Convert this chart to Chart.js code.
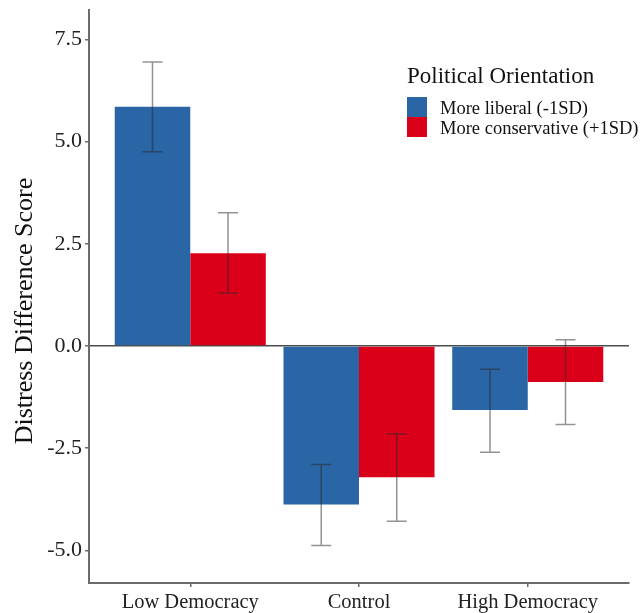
<!DOCTYPE html>
<html>
<head>
<meta charset="utf-8">
<title>Distress Difference Score</title>
<style>
  html, body { margin: 0; padding: 0; background: #fff; }
  #chart { display: block; }
</style>
<script src="https://cdn.jsdelivr.net/npm/chart.js@4.4.1/dist/chart.umd.min.js"></script>
</head>
<body>
<canvas id="chart" width="644" height="613"></canvas>
<script>
var categories = ['Low Democracy', 'Control', 'High Democracy'];
var seriesLabels = ['More liberal (-1SD)', 'More conservative (+1SD)'];
var liberalMeans = [5.85, -3.88, -1.57];
var liberalLower = [4.75, -4.88, -2.60];
var liberalUpper = [6.95, -2.90, -0.57];
var conservativeMeans = [2.27, -3.21, -0.88];
var conservativeLower = [1.29, -4.29, -1.92];
var conservativeUpper = [3.26, -2.15, 0.15];
var yTicks = [-5, -2.5, 0, 2.5, 5, 7.5];
var yTitle = 'Distress Difference Score';
var legendTitle = 'Political Orientation';

(function () {
  var serif = '"Liberation Serif", "Times New Roman", serif';
  var axisColor = '#6b6b6b';
  var textColor = '#222';

  function points(values) {
    return values.map(function (v, i) { return { x: i + 1, y: v }; });
  }

  // whiskers, drawn from each bar's own x and the y scale
  var errorBars = {
    id: 'errorBars',
    afterDatasetsDraw: function (chart) {
      var ctx = chart.ctx;
      var y = chart.scales.y;
      ctx.save();
      ctx.strokeStyle = 'rgba(40,40,40,0.5)';
      ctx.lineWidth = 1.5;
      chart.data.datasets.forEach(function (ds, i) {
        chart.getDatasetMeta(i).data.forEach(function (bar, j) {
          var top = y.getPixelForValue(ds.errHigh[j]);
          var bottom = y.getPixelForValue(ds.errLow[j]);
          ctx.beginPath();
          ctx.moveTo(bar.x, top);
          ctx.lineTo(bar.x, bottom);
          ctx.moveTo(bar.x - 10, top);
          ctx.lineTo(bar.x + 10, top);
          ctx.moveTo(bar.x - 10, bottom);
          ctx.lineTo(bar.x + 10, bottom);
          ctx.stroke();
        });
      });
      ctx.restore();
    }
  };

  // ggplot style legend inside the panel, plus the y title
  var extras = {
    id: 'extras',
    afterDraw: function (chart) {
      var ctx = chart.ctx;
      ctx.save();
      ctx.fillStyle = '#111';
      ctx.textAlign = 'left';
      ctx.textBaseline = 'alphabetic';
      ctx.font = '23px ' + serif;
      ctx.fillText(legendTitle, 407, 83);
      ctx.font = '18.5px ' + serif;
      chart.data.datasets.forEach(function (ds, i) {
        var top = 97 + i * 20;
        ctx.fillStyle = ds.backgroundColor;
        ctx.fillRect(407, top, 20, 20);
        ctx.fillStyle = '#111';
        ctx.fillText(ds.label, 440, top + 16.5);
      });

      ctx.translate(32, 311);
      ctx.rotate(-Math.PI / 2);
      ctx.textAlign = 'center';
      ctx.font = '26px ' + serif;
      ctx.fillText(yTitle, 0, 0);
      ctx.restore();
    }
  };

  new Chart(document.getElementById('chart'), {
    type: 'bar',
    data: {
      datasets: [{
        label: seriesLabels[0],
        data: points(liberalMeans),
        errLow: liberalLower,
        errHigh: liberalUpper,
        backgroundColor: '#2a65a6',
        borderWidth: 0
      }, {
        label: seriesLabels[1],
        data: points(conservativeMeans),
        errLow: conservativeLower,
        errHigh: conservativeUpper,
        backgroundColor: '#db0019',
        borderWidth: 0
      }]
    },
    options: {
      responsive: false,
      animation: false,
      categoryPercentage: 0.895,
      barPercentage: 1,
      layout: { padding: { top: 10, right: 15, left: 0, bottom: 0 } },
      scales: {
        x: {
          type: 'linear',
          min: 0.4,
          max: 3.6,
          offset: false,
          afterBuildTicks: function (scale) {
            scale.ticks = categories.map(function (c, i) { return { value: i + 1 }; });
          },
          afterFit: function (scale) {
            scale.height = 30;
            scale.paddingLeft = 0;
            scale.paddingRight = 0;
          },
          border: { color: axisColor, width: 2 },
          grid: { offset: false, drawOnChartArea: false, tickLength: 4, tickColor: axisColor, lineWidth: 1.5 },
          ticks: {
            color: textColor,
            padding: 3,
            maxRotation: 0,
            autoSkip: false,
            font: { family: serif, size: 20.5 },
            callback: function (value) { return categories[Math.round(value) - 1] || ''; }
          }
        },
        y: {
          min: -5.8,
          max: 8.22,
          z: 1,
          afterBuildTicks: function (scale) {
            scale.ticks = yTicks.map(function (v) { return { value: v }; });
          },
          afterFit: function (scale) {
            scale.width = 89;
            scale.paddingTop = 0;
            scale.paddingBottom = 0;
          },
          border: { color: axisColor, width: 2 },
          grid: {
            color: function (c) { return c.tick && c.tick.value === 0 ? '#4d4d4d' : 'rgba(0,0,0,0)'; },
            lineWidth: 1.5,
            tickLength: 4,
            tickColor: axisColor
          },
          ticks: {
            color: textColor,
            padding: 3,
            font: { family: serif, size: 22 },
            callback: function (value) { return value.toFixed(1); }
          }
        }
      },
      plugins: {
        legend: { display: false },
        tooltip: { enabled: false }
      }
    },
    plugins: [errorBars, extras]
  });
})();
</script>
</body>
</html>
